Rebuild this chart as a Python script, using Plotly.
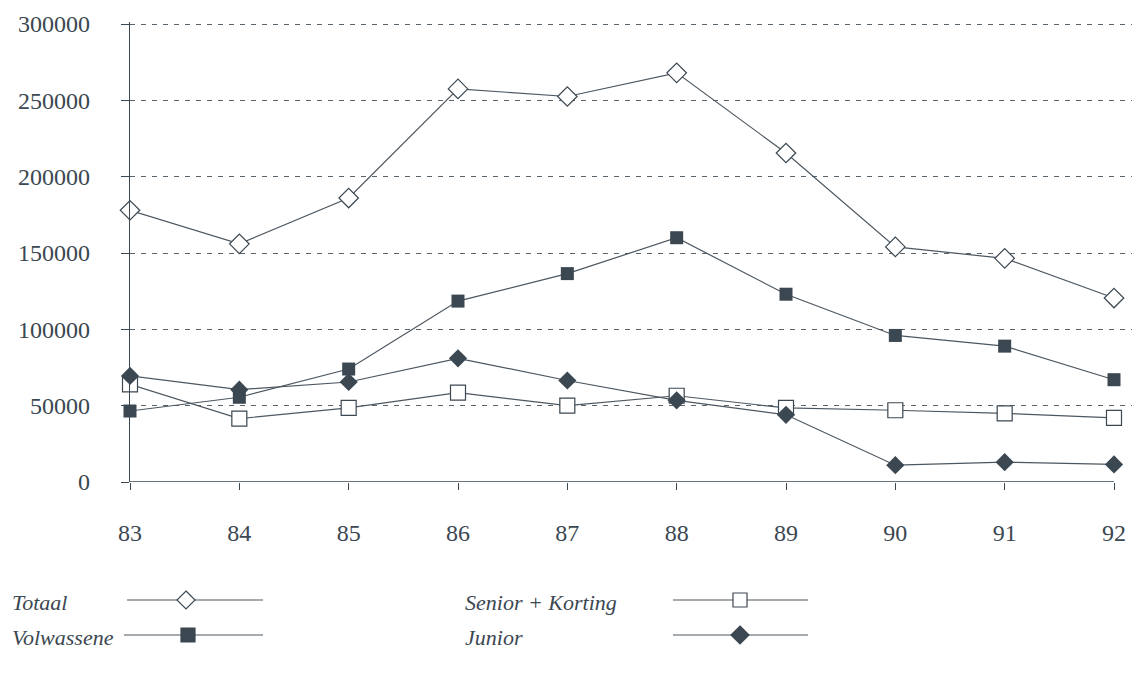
import plotly.graph_objects as go

years = [83, 84, 85, 86, 87, 88, 89, 90, 91, 92]
year_labels = ["83", "84", "85", "86", "87", "88", "89", "90", "91", "92"]
totaal = [178000, 156000, 186000, 257500, 252500, 268000, 215500, 154000, 146500, 120500]
volwassene = [46500, 55500, 74000, 118500, 136500, 160000, 123000, 96000, 89000, 67000]
senior_korting = [64000, 41500, 48500, 58500, 50000, 56500, 48500, 47000, 45000, 42000]
junior = [69500, 60500, 65500, 81000, 66500, 53500, 44000, 11000, 13000, 11500]
y_ticks = [0, 50000, 100000, 150000, 200000, 250000, 300000]

INK = "#3b4751"
LINE = "#4d5760"
FONT = "Liberation Serif"

OFF = 8  # page body margin
W, H = 1140 - OFF, 674 - OFF
# plot area in page pixels
PL, PR, PT, PB = 130, 1140, 24, 482
L, R, T, B = PL - OFF, PR - OFF, PT - OFF, PB - OFF
TOP_PAD = 2  # pixels above top gridline


def px(x):
    return (x - PL) / (PR - PL)


def py(y):
    return (PB - y) / (PB - (PT - TOP_PAD))


fig = go.Figure()

series = [
    ("Totaal", totaal, dict(symbol="diamond", size=15, color="white", line=dict(width=1.2, color=INK))),
    ("Volwassene", volwassene, dict(symbol="square", size=13, color=INK, line=dict(width=0, color=INK))),
    ("Senior + Korting", senior_korting, dict(symbol="square", size=15, color="white", line=dict(width=1.2, color=INK))),
    ("Junior", junior, dict(symbol="diamond", size=14, color=INK, line=dict(width=0, color=INK))),
]
for name, vals, mk in series:
    fig.add_trace(go.Scatter(
        x=years, y=vals, name=name, mode="lines+markers",
        line=dict(color=LINE, width=1.2), marker=mk, showlegend=False,
        cliponaxis=False,
    ))

# baseline x-axis line from first to last year
fig.add_shape(type="line", xref="x", yref="y", x0=years[0], x1=years[-1], y0=0, y1=0,
              line=dict(color=INK, width=1.3), layer="below")

# Custom legend (page pixel positions)
legend_items = [
    ("Totaal", 10, 602, 127, 263, 186, "diamond", False),
    ("Volwassene", 10, 637, 124, 263, 188, "square", True),
    ("Senior + Korting", 463, 602, 673, 808, 740, "square", False),
    ("Junior", 463, 637, 673, 808, 740, "diamond", True),
]
for text, tx, ty, lx0, lx1, mx, shp, filled in legend_items:
    fig.add_annotation(text=text, xref="paper", yref="paper", x=px(tx), y=py(ty),
                       xanchor="left", yanchor="middle", showarrow=False,
                       font=dict(family=FONT, size=22, color=INK, style="italic"))
    ly = ty - 2
    fig.add_shape(type="line", xref="paper", yref="paper", x0=px(lx0), x1=px(lx1),
                  y0=py(ly), y1=py(ly), line=dict(color=LINE, width=1.2))
    fill = INK if filled else "white"
    if shp == "square":
        s = 7
        fig.add_shape(type="rect", xref="paper", yref="paper",
                      x0=px(mx - s), x1=px(mx + s), y0=py(ly - s), y1=py(ly + s),
                      fillcolor=fill, line=dict(color=INK, width=1.2))
    else:
        s = 9
        x0, x1, xm = px(mx - s), px(mx + s), px(mx)
        y0, y1, ym = py(ly - s), py(ly + s), py(ly)
        fig.add_shape(type="path", xref="paper", yref="paper",
                      path=f"M {xm} {y0} L {x1} {ym} L {xm} {y1} L {x0} {ym} Z",
                      fillcolor=fill, line=dict(color=INK, width=1.2))

fig.update_layout(
    width=W, height=H,
    margin=dict(l=L, r=W - R, t=T - TOP_PAD, b=H - B),
    paper_bgcolor="white", plot_bgcolor="white",
    font=dict(family=FONT, color=INK),
    showlegend=False,
)
fig.update_xaxes(
    range=[83, 92 + (PR - 1114) / ((1114 - 130) / 9)],
    tickvals=years, ticktext=year_labels,
    showgrid=False, zeroline=False, showline=False,
    ticks="outside", ticklen=7, tickcolor=INK, tickwidth=1,
    tickfont=dict(family=FONT, size=24, color=INK),
    ticklabelstandoff=22,
)
fig.update_yaxes(
    range=[0, 300000 * (PB - PT + TOP_PAD) / (PB - PT)],
    tickvals=y_ticks, ticktext=[str(v) for v in y_ticks],
    showgrid=True, gridcolor="#5a646c", gridwidth=1, griddash="5px,6px",
    zeroline=False, showline=True, linecolor=INK, linewidth=1.2,
    ticks="outside", ticklen=8, tickcolor=INK, tickwidth=1,
    tickfont=dict(family=FONT, size=24, color=INK),
    ticklabelstandoff=26,
)

fig.write_html("out.html")
